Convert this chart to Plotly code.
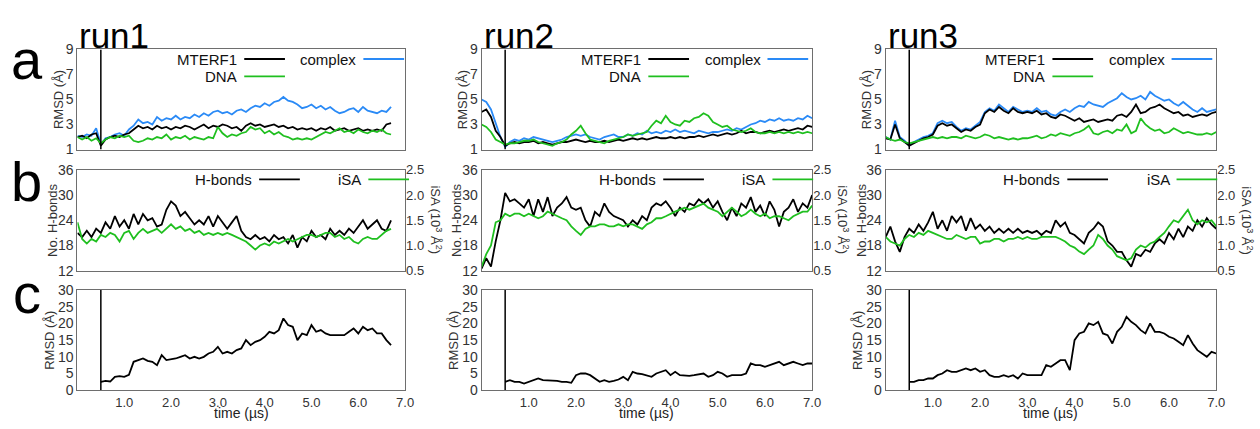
import plotly.graph_objects as go

# ---------------- data ----------------
TIME_STEP = 0.1          # µs between samples
EQUIL_TIME = 0.5         # µs, marked by the vertical line; panel c starts here
RUNS = ["run1", "run2", "run3"]
PANEL_LETTERS = ["a", "b", "c"]
X_TICKS = [1, 2, 3, 4, 5, 6, 7]
X_TICK_TEXT = ["1.0", "2.0", "3.0", "4.0", "5.0", "6.0", "7.0"]
RMSD_A_TICKS = [1, 3, 5, 7, 9]
HB_TICKS = [12, 18, 24, 30, 36]
ISA_TICKS = [0.5, 1.0, 1.5, 2.0, 2.5]
ISA_TICK_TEXT = ["0.5", "1.0", "1.5", "2.0", "2.5"]
RMSD_C_TICKS = [0, 5, 10, 15, 20, 25, 30]

# run1 (0.0 .. 6.7 µs)
run1_complex = [2.1, 2.0, 2.2, 2.1, 2.7, 1.4, 1.9, 2.0, 2.2, 2.3,
                2.1, 2.6, 2.9, 3.4, 3.1, 3.2, 3.0, 3.6, 3.3, 3.5,
                3.4, 3.7, 3.4, 3.6, 3.5, 3.8, 3.6, 3.9, 3.7, 4.0,
                4.1, 3.9, 4.0, 3.8, 4.1, 4.2, 4.0, 4.3, 4.5, 4.4,
                4.7, 4.5, 4.8, 4.9, 5.2, 4.9, 4.8, 4.6, 4.3, 4.4,
                4.6, 4.3, 4.5, 4.2, 4.4, 4.1, 3.9, 4.0, 4.2, 4.3,
                4.0, 4.4, 4.1, 4.0, 3.9, 4.1, 4.0, 4.4]
run1_mterf1 = [2.0, 2.1, 1.9, 2.2, 2.3, 1.3, 1.8, 2.0, 2.1, 2.0,
               2.2, 2.3, 2.6, 2.9, 2.7, 2.8, 2.6, 2.9, 2.7, 2.8,
               2.6, 2.8, 2.7, 2.9, 2.8, 2.6, 2.8, 3.0, 2.7, 2.9,
               2.8, 3.0, 2.9, 2.7, 2.8, 2.5, 2.9, 3.1, 2.9, 3.0,
               2.8, 2.9, 3.0, 2.8, 2.9, 2.7, 2.8, 2.6, 2.7, 2.6,
               2.7, 2.5, 2.7, 2.6, 2.8, 2.5, 2.6, 2.7, 2.5, 2.6,
               2.7, 2.5, 2.6, 2.5, 2.6, 2.5, 3.0, 3.1]
run1_dna = [2.0, 1.8, 2.0, 1.7, 1.9, 1.5, 1.8, 2.0, 1.9, 2.1,
            2.0, 2.1, 1.7, 1.6, 1.7, 1.9, 1.8, 2.0, 1.9, 2.2,
            1.8, 2.0, 1.9, 2.1, 1.8, 2.0, 1.9, 1.8, 2.0, 1.9,
            2.8, 2.3, 2.0, 2.2, 2.1, 2.3, 2.4, 2.8, 2.6, 2.7,
            2.3, 2.5, 2.2, 2.4, 2.1, 2.0, 1.8, 1.9, 1.8, 1.9,
            1.8, 2.0, 2.2, 2.4, 2.3, 2.5, 2.7, 2.4, 2.5, 2.3,
            2.6, 2.4, 2.3, 2.5, 2.4, 2.6, 2.3, 2.2]
run1_hbonds = [21, 20, 21.5, 20, 22, 21, 23.5, 22, 25, 22.5,
               24, 22, 25.5, 23, 25.5, 24, 24.5, 22.5, 23, 26.5,
               28.5, 27.5, 25, 26, 24.5, 23, 24, 23, 25, 22.5,
               25, 23.5, 22, 23.5, 25, 21.5, 20, 19.5, 20.5, 19.5,
               20, 19, 20.5, 19.5, 20, 18.5, 20.5, 17.5, 20, 19,
               21.5, 20, 20.5, 19.5, 22, 20.5, 21.5, 20.5, 22, 21,
               22.5, 24, 22, 23, 24, 22, 21.5, 24]
run1_isa = [1.46, 1.13, 1.04, 1.13, 1.08, 1.21, 1.17, 1.25, 1.21, 1.08,
            1.25, 1.29, 1.13, 1.25, 1.33, 1.25, 1.29, 1.33, 1.25, 1.33,
            1.42, 1.33, 1.38, 1.29, 1.33, 1.25, 1.29, 1.21, 1.25, 1.21,
            1.25, 1.21, 1.25, 1.21, 1.17, 1.13, 1.08, 1.00, 0.92, 1.00,
            1.04, 1.00, 1.08, 1.04, 1.08, 1.13, 1.08, 1.13, 1.17, 1.21,
            1.21, 1.17, 1.21, 1.25, 1.25, 1.17, 1.21, 1.13, 1.17, 1.08,
            1.04, 1.13, 1.17, 1.13, 1.13, 1.21, 1.29, 1.33]
run1_rmsd_c = [2.5, 2.8, 2.6, 4.0, 4.2, 4.0, 4.6, 8.5, 9.0, 9.5,
               8.8, 8.5, 7.5, 10.5, 9.0, 9.2, 9.5, 10.0, 10.5, 9.5,
               10.0, 9.5, 10.0, 11.0, 11.5, 13.0, 11.0, 11.5, 11.0, 12.0,
               12.5, 15.0, 13.5, 14.5, 15.0, 16.0, 17.5, 17.0, 18.0, 21.5,
               19.5, 19.0, 15.0, 17.0, 16.5, 19.5, 17.5, 18.0, 17.0, 16.5,
               16.5, 16.5, 16.5, 17.5, 18.5, 17.0, 19.0, 18.0, 18.5, 17.0,
               17.0, 15.0, 13.5]

# run2 (0.0 .. 7.0 µs)
run2_complex = [5.0, 4.8, 4.2, 3.0, 2.0, 1.2, 1.6, 1.8, 1.7, 1.9,
                1.8, 2.0, 1.9, 1.8, 1.7, 1.6, 1.7, 1.8, 2.0, 2.1,
                2.2, 2.1, 2.2, 2.0, 1.9, 1.8, 2.0, 2.1, 2.2, 2.0,
                2.0, 2.2, 2.1, 2.3, 2.2, 2.5, 2.3, 2.4, 2.3, 2.5,
                2.4, 2.6, 2.4, 2.5, 2.4, 2.3, 2.5, 2.4, 2.3, 2.4,
                2.4, 2.5, 2.6, 2.5, 2.7, 2.6, 2.8, 3.0, 3.1, 3.3,
                3.2, 3.4, 3.3, 3.5, 3.3, 3.4, 3.3, 3.5, 3.4, 3.7,
                3.5]
run2_mterf1 = [4.0, 4.2, 3.6, 2.5, 2.0, 1.3, 1.5, 1.6, 1.5, 1.6,
               1.6, 1.7, 1.5, 1.6, 1.5, 1.4, 1.5, 1.6, 1.6, 1.7,
               1.8, 1.7, 1.6, 1.7, 1.6, 1.6, 1.7, 1.6, 1.7, 1.8,
               1.7, 1.8, 1.9, 1.8, 1.9, 1.8, 1.9, 2.0, 1.9, 1.9,
               2.0, 1.9, 2.0, 1.9, 2.0, 2.0, 2.1, 2.0, 2.1, 2.2,
               2.1, 2.2, 2.3, 2.2, 2.3, 2.5, 2.3, 2.4, 2.4, 2.3,
               2.4, 2.5, 2.4, 2.5, 2.6, 2.5, 2.6, 2.7, 2.6, 2.9,
               2.8]
run2_dna = [3.0, 2.8, 2.4, 1.8, 1.6, 1.4, 1.5, 1.5, 1.6, 1.7,
            1.7, 1.8, 1.6, 1.5, 1.4, 1.3, 1.5, 1.6, 1.8, 2.2,
            2.5, 2.9, 2.3, 1.8, 1.7, 1.6, 1.5, 1.7, 1.8, 1.9,
            2.0, 2.2, 2.1, 2.2, 2.3, 2.4, 2.9, 3.3, 3.1, 3.7,
            3.2, 3.0, 2.9, 3.3, 3.2, 3.5, 3.6, 3.9, 3.7, 3.2,
            3.0, 2.8, 2.9, 2.6, 2.5, 2.4, 2.5, 2.7, 2.4, 2.3,
            2.3, 2.4, 2.3, 2.4, 2.3, 2.4, 2.3, 2.4, 2.3, 2.4,
            2.3]
run2_hbonds = [12.5, 15, 13, 19, 24, 30.5, 28.5, 29, 28, 27,
               29, 25, 29, 26, 29.5, 25, 27, 28, 29.5, 27,
               26.5, 27, 24, 22.5, 26, 25, 28, 26, 25, 24.5,
               24, 22.5, 24, 23, 25, 24, 27, 28, 27.5, 28.5,
               27, 25, 27, 26, 28, 27.5, 29, 28, 29, 27,
               28.5, 26, 24, 27, 25, 28, 27, 29.5, 26, 27.5,
               25, 28.5, 26.5, 22.5, 26, 27, 29, 26, 28, 27,
               30]
run2_isa = [0.58, 0.83, 1.00, 1.46, 1.50, 1.63, 1.58, 1.63, 1.63, 1.58,
            1.63, 1.58, 1.54, 1.58, 1.67, 1.63, 1.58, 1.54, 1.50, 1.38,
            1.29, 1.21, 1.33, 1.38, 1.38, 1.42, 1.42, 1.38, 1.38, 1.42,
            1.38, 1.42, 1.42, 1.38, 1.33, 1.42, 1.46, 1.54, 1.54, 1.58,
            1.63, 1.67, 1.71, 1.75, 1.71, 1.75, 1.79, 1.83, 1.75, 1.71,
            1.67, 1.58, 1.67, 1.75, 1.67, 1.58, 1.63, 1.71, 1.63, 1.58,
            1.63, 1.54, 1.58, 1.58, 1.54, 1.50, 1.58, 1.63, 1.67, 1.67,
            1.79]
run2_rmsd_c = [2.5, 3.0, 2.5, 2.5, 2.0, 2.5, 3.0, 3.5, 3.0, 3.0,
               3.0, 2.8, 2.5, 2.5, 2.2, 4.5, 5.0, 5.0, 4.5, 3.5,
               2.5, 3.0, 2.5, 2.8, 3.2, 4.0, 3.0, 5.5, 5.0, 4.8,
               4.5, 4.0, 5.0, 5.5, 6.0, 4.5, 5.5, 4.5, 4.3, 4.3,
               4.5, 4.8, 5.0, 4.0, 4.5, 5.5, 5.0, 4.0, 4.5, 4.5,
               4.5, 5.0, 8.0, 7.5, 7.5, 7.0, 7.5, 8.0, 8.5, 7.5,
               8.0, 8.5, 8.0, 7.5, 8.0, 8.0]

# run3 (0.0 .. 7.0 µs)
run3_complex = [2.0, 1.8, 3.3, 2.0, 1.7, 1.3, 1.6, 1.8, 2.0, 2.1,
                2.3, 3.1, 3.3, 3.1, 3.2, 2.8, 2.5, 2.7, 2.6, 2.9,
                3.2, 4.0, 4.3, 4.1, 4.6, 4.3, 4.0, 4.4, 4.2, 4.0,
                4.1, 4.0, 4.3, 4.0, 4.1, 3.8, 3.7, 4.0, 4.2, 4.0,
                4.3, 4.5, 4.4, 4.8, 4.6, 4.5, 4.4, 4.7, 4.9, 5.1,
                5.5, 5.2, 5.0, 5.1, 5.3, 5.0, 5.6, 5.3, 5.1, 4.9,
                5.0, 4.7, 4.5, 4.8, 4.5, 4.2, 4.0, 4.3, 4.0, 4.1,
                4.2]
run3_mterf1 = [1.9, 1.8, 3.0, 1.9, 1.6, 1.3, 1.5, 1.7, 1.9, 2.0,
               2.2, 2.9, 3.1, 2.9, 3.0, 2.7, 2.4, 2.6, 2.5, 2.8,
               3.0, 3.9, 4.2, 4.0, 4.4, 4.1, 3.9, 4.3, 4.0, 3.9,
               4.0, 3.9, 4.1, 3.8, 3.9, 3.6, 3.5, 3.8, 3.7, 3.5,
               3.3, 3.5, 3.2, 3.3, 3.4, 3.2, 3.3, 3.4, 3.3, 3.7,
               3.8, 3.6, 4.0, 4.6, 3.9, 4.0, 4.3, 4.4, 4.6, 4.3,
               4.1, 3.9, 4.0, 3.7, 3.8, 3.6, 3.7, 3.8, 3.7, 3.9,
               4.0]
run3_dna = [2.0, 1.8, 1.7, 1.8, 1.6, 1.5, 1.6, 1.7, 1.8, 1.9,
            2.0, 1.9, 2.0, 1.9, 2.0, 2.0, 1.9, 2.1, 2.0, 1.9,
            2.0, 2.2, 2.1, 1.9, 2.0, 1.9, 1.8, 1.9, 1.8, 1.9,
            1.9, 2.0, 2.1, 1.9, 2.0, 2.2, 2.1, 2.3, 2.2, 2.1,
            2.3, 2.4, 2.6, 2.9, 2.3, 2.2, 2.4, 2.5, 2.3, 2.6,
            2.5, 3.0, 2.3, 2.5, 3.5, 3.0, 2.7, 2.5, 2.6, 2.3,
            2.4, 2.7, 2.5, 2.3, 2.4, 2.3, 2.2, 2.2, 2.3, 2.2,
            2.4]
run3_hbonds = [20, 22.5, 19, 16.5, 20, 22, 21, 23, 21.5, 23.5,
               26, 22, 24, 21.5, 25, 23.5, 25, 21.5, 24.5, 22,
               23, 21.5, 22.5, 21, 22, 21, 22, 21, 22, 21,
               21.5, 21, 21.5, 20.5, 21.5, 21, 24, 22.5, 23.5, 21,
               20.5, 19.5, 18.5, 21, 22, 23.5, 22.5, 19, 18, 16.5,
               16.5, 14.5, 13, 16, 15.5, 17, 16.5, 18.5, 19.5, 18.5,
               21, 19.5, 22, 20, 22.5, 21.5, 24, 22.5, 24.5, 23,
               22]
run3_isa = [1.17, 1.08, 1.04, 1.00, 1.13, 1.21, 1.17, 1.25, 1.21, 1.29,
            1.25, 1.21, 1.17, 1.13, 1.13, 1.21, 1.17, 1.13, 1.17, 1.17,
            1.04, 1.08, 1.08, 1.13, 1.13, 1.08, 1.13, 1.13, 1.17, 1.13,
            1.17, 1.13, 1.13, 1.17, 1.17, 1.17, 1.17, 1.13, 1.08, 1.00,
            0.96, 0.88, 0.83, 0.92, 1.00, 1.21, 1.13, 1.00, 0.92, 0.79,
            0.75, 0.71, 0.75, 0.92, 1.00, 0.96, 1.04, 1.08, 1.17, 1.25,
            1.38, 1.50, 1.46, 1.58, 1.71, 1.50, 1.42, 1.50, 1.46, 1.50,
            1.38]
run3_rmsd_c = [2.5, 2.5, 3.0, 3.0, 3.5, 3.5, 4.5, 5.0, 6.0, 5.5,
               5.5, 6.0, 6.5, 6.0, 6.5, 5.5, 6.0, 4.5, 4.0, 4.0,
               4.5, 4.0, 4.5, 3.5, 5.0, 4.5, 4.5, 4.5, 4.5, 7.5,
               7.0, 8.0, 9.0, 9.0, 6.0, 15.0, 17.0, 17.5, 20.0, 19.5,
               20.5, 17.0, 16.5, 14.0, 17.5, 19.0, 22.0, 20.5, 19.5, 18.0,
               17.0, 20.0, 17.5, 17.5, 17.0, 16.0, 15.5, 14.5, 13.5, 16.5,
               14.0, 12.0, 11.0, 10.0, 11.5, 11.0]

RUN_DATA = [
    (run1_complex, run1_mterf1, run1_dna, run1_hbonds, run1_isa, run1_rmsd_c),
    (run2_complex, run2_mterf1, run2_dna, run2_hbonds, run2_isa, run2_rmsd_c),
    (run3_complex, run3_mterf1, run3_dna, run3_hbonds, run3_isa, run3_rmsd_c),
]

# ---------------- styling / layout ----------------
W, H = 1260, 429
FONT = "Liberation Sans, Arial, sans-serif"
C_BLACK = "#000000"
C_BLUE = "#2a8af6"
C_GREEN = "#1fbf1f"
FRAME = "#6e6e6e"
TICKC = "#333333"
LW = 1.8

COL_PX = [(78, 408), (485, 818), (892, 1225)]
ROW_PX = [(43, 147), (168, 273), (293, 397)]
YTITLE_OFFSET = [19, 25, 29]
YTITLES = ["RMSD (Å)", "No. H-bonds", "RMSD (Å)"]


def fx(px):
    return px / W


def fy(py):
    return 1 - py / H


def times(n, start=0.0):
    return [round(start + i * TIME_STEP, 3) for i in range(n)]


fig = go.Figure()
layout = dict(
    width=W, height=H, margin=dict(l=0, r=0, t=0, b=0),
    paper_bgcolor="white", plot_bgcolor="white", showlegend=False,
    hovermode=False, font=dict(family=FONT, color=TICKC, size=14),
)

annotations = []
shapes = []


def text_ann(x, y, text, size, color="#222", angle=0, xanchor="center"):
    annotations.append(dict(xref="paper", yref="paper", x=fx(x), y=fy(y), text=text,
                            showarrow=False, textangle=angle, xanchor=xanchor,
                            yanchor="middle", borderpad=0,
                            font=dict(size=size, color=color)))


for ci in range(3):
    cx0, cx1 = COL_PX[ci]
    complex_v, mterf_v, dna_v, hb_v, isa_v, rc_v = RUN_DATA[ci]
    for ri in range(3):
        idx = ri * 3 + ci + 1
        xname = "xaxis" if idx == 1 else f"xaxis{idx}"
        yname = "yaxis" if idx == 1 else f"yaxis{idx}"
        xref = "x" if idx == 1 else f"x{idx}"
        yref = "y" if idx == 1 else f"y{idx}"
        ry0, ry1 = ROW_PX[ri]
        xa = dict(domain=[fx(cx0), fx(cx1)], anchor=yref, range=[0, 7],
                  showline=True, mirror=True, linecolor=FRAME, linewidth=1,
                  showgrid=False, zeroline=False, ticks="",
                  tickvals=X_TICKS, ticktext=X_TICK_TEXT,
                  showticklabels=(ri == 2),
                  tickfont=dict(size=13, color=TICKC))
        ya = dict(domain=[fy(ry1), fy(ry0)], anchor=xref, showline=True,
                  mirror=True, linecolor=FRAME, linewidth=1, showgrid=False,
                  zeroline=False, ticks="", tickfont=dict(size=14, color=TICKC))
        text_ann(cx0 - YTITLE_OFFSET[ri], (ry0 + ry1) / 2, YTITLES[ri], 13,
                 color="#333", angle=-90)
        if ri == 0:
            ya.update(range=[1, 9], tickvals=RMSD_A_TICKS)
            t = times(len(complex_v))
            for vals, col in ((complex_v, C_BLUE), (mterf_v, C_BLACK), (dna_v, C_GREEN)):
                fig.add_trace(go.Scatter(x=t, y=vals, mode="lines", xaxis=xref, yaxis=yref,
                                         line=dict(color=col, width=LW)))
            fig.add_trace(go.Scatter(x=[EQUIL_TIME, EQUIL_TIME], y=[1, 9], mode="lines",
                                     xaxis=xref, yaxis=yref, line=dict(color=C_BLACK, width=1.5)))
            legend_items = [("MTERF1", C_BLACK, 162, 53), ("DNA", C_GREEN, 162, 71),
                            ("complex", C_BLUE, 282, 53)]
        elif ri == 1:
            ya.update(range=[12, 36], tickvals=HB_TICKS)
            sidx = 9 + ci + 1
            sname = f"yaxis{sidx}"
            sref = f"y{sidx}"
            layout[sname] = dict(overlaying=yref, side="right", anchor=xref,
                                 range=[0.5, 2.5], tickvals=ISA_TICKS,
                                 ticktext=ISA_TICK_TEXT, showgrid=False,
                                 zeroline=False, showline=False, ticks="",
                                 tickfont=dict(size=13, color=TICKC))
            t = times(len(hb_v))
            fig.add_trace(go.Scatter(x=t, y=hb_v, mode="lines", xaxis=xref, yaxis=yref,
                                     line=dict(color=C_BLACK, width=LW)))
            t2 = times(len(isa_v))
            fig.add_trace(go.Scatter(x=t2, y=isa_v, mode="lines", xaxis=xref, yaxis=sref,
                                     line=dict(color=C_GREEN, width=LW)))
            text_ann(cx1 + 31, (ry0 + ry1) / 2, "iSA (10<sup>3</sup> Å<sup>2</sup>)", 13,
                     color="#333", angle=90)
            legend_items = [("H-bonds", C_BLACK, 177, 178), ("iSA", C_GREEN, 287, 178)]
        else:
            ya.update(range=[0, 30], tickvals=RMSD_C_TICKS)
            t = times(len(rc_v), EQUIL_TIME)
            fig.add_trace(go.Scatter(x=[EQUIL_TIME, EQUIL_TIME], y=[0, 30], mode="lines",
                                     xaxis=xref, yaxis=yref, line=dict(color=C_BLACK, width=1.5)))
            fig.add_trace(go.Scatter(x=t, y=rc_v, mode="lines", xaxis=xref, yaxis=yref,
                                     line=dict(color=C_BLACK, width=LW)))
            text_ann((cx0 + cx1) / 2, 421, "time (µs)", 14, color="#222")
            legend_items = []
        layout[xname] = xa
        layout[yname] = ya

        for label, col, right_px, y_px in legend_items:
            text_ann(cx0 + right_px, y_px, label, 15, color="#111", xanchor="right")
            shapes.append(dict(type="line", xref="paper", yref="paper",
                               x0=fx(cx0 + right_px + 6), x1=fx(cx0 + right_px + 47),
                               y0=fy(y_px), y1=fy(y_px), line=dict(color=col, width=LW)))

    text_ann(cx0 + 1, 29, RUNS[ci], 35, color="#000", xanchor="left")

for ri, letter in enumerate(PANEL_LETTERS):
    text_ann(27, [53, 180, 297][ri], letter, 56, color="#000")

layout["annotations"] = annotations
layout["shapes"] = shapes
fig.update_layout(**layout)
# remove the page's default 8px body margin so the figure fills the window exactly
fig.write_html("out.html", config={"displayModeBar": False},
               post_script="document.body.style.margin='0';document.body.style.overflow='hidden';")
